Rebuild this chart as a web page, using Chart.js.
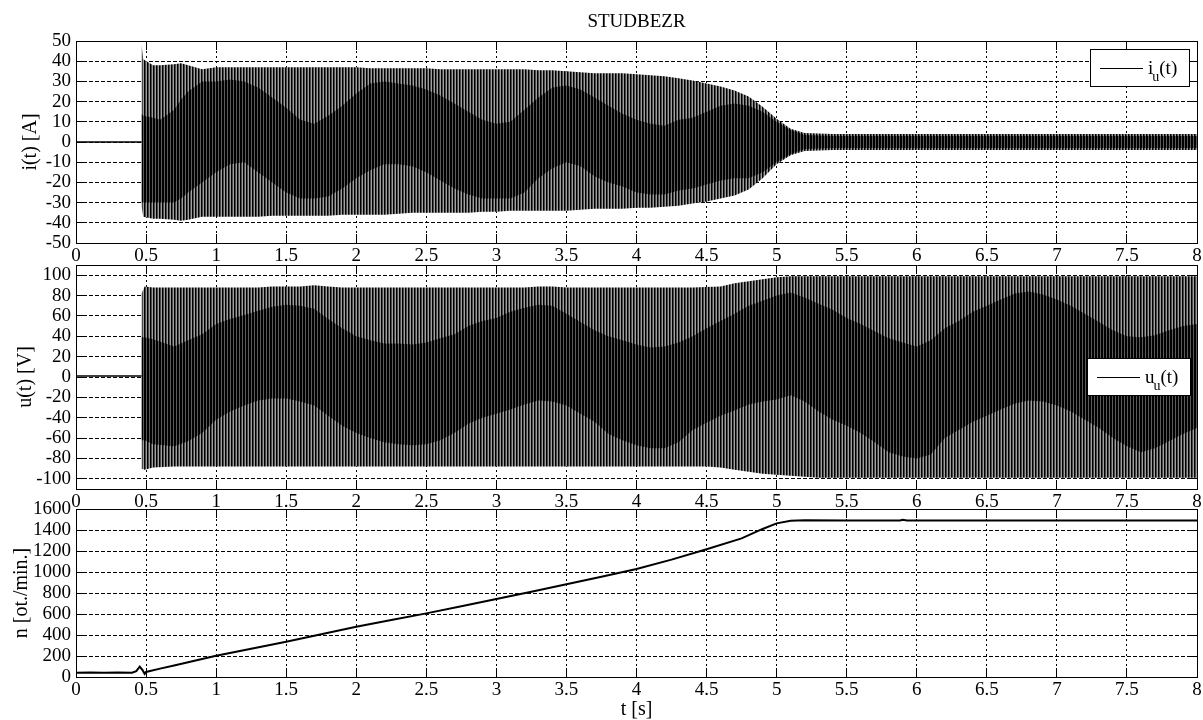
<!DOCTYPE html>
<html>
<head>
<meta charset="utf-8">
<script src="https://cdn.jsdelivr.net/npm/chart.js@4.4.1/dist/chart.umd.min.js"></script>
<style>
  body { margin: 0; background: #fff; }
  #wrap { position: relative; width: 1203px; height: 720px; }
  #wrap canvas { position: absolute; left: 0; }
</style>
</head>
<body>
<div id="wrap">
  <canvas id="currentChart" width="1203" height="265" style="top:0px"></canvas>
  <canvas id="voltageChart" width="1203" height="260" style="top:255px"></canvas>
  <canvas id="speedChart" width="1203" height="220" style="top:500px"></canvas>
</div>
<script>
// tick labels
var xTicks = [0, 0.5, 1, 1.5, 2, 2.5, 3, 3.5, 4, 4.5, 5, 5.5, 6, 6.5, 7, 7.5, 8];
var iTicks = [-50, -40, -30, -20, -10, 0, 10, 20, 30, 40, 50];
var uTicks = [-100, -80, -60, -40, -20, 0, 20, 40, 60, 80, 100];
var nTicks = [0, 200, 400, 600, 800, 1000, 1200, 1400, 1600];

// current i(t): envelope of the oscillation (outer) and of the dark beat region (inner)
var iTime = [0.468, 0.48, 0.55, 0.6, 0.7, 0.75, 0.8, 0.9,
  1.0, 1.1, 1.2, 1.3, 1.4, 1.5, 1.6, 1.7, 1.8, 1.9,
  2.0, 2.1, 2.2, 2.3, 2.4, 2.5, 2.6, 2.7, 2.8, 2.9,
  3.0, 3.1, 3.2, 3.3, 3.4, 3.5, 3.6, 3.7, 3.8, 3.9,
  4.0, 4.1, 4.2, 4.3, 4.4, 4.5, 4.6, 4.7, 4.8, 4.9,
  5.0, 5.1, 5.2, 5.4, 6.0, 7.0, 8.0];
var iHigh = [48, 41, 38, 38, 38.5, 39, 38, 36,
  37, 37, 37, 37, 37, 37, 37, 37, 37, 37,
  37, 36.5, 36.5, 36.5, 36.5, 36.5, 36, 36, 36, 36,
  36, 36, 36, 35.5, 35.5, 35, 34.5, 34, 34, 34,
  33.5, 33, 32.5, 31.5, 30.5, 29, 27.5, 25.5, 22.5, 17.5,
  11.5, 6.5, 4.5, 4, 4, 4, 4];
var iLow = [-32, -37, -38, -38, -38.5, -39, -38.5, -37,
  -37, -37, -37, -37, -36.5, -36.5, -36.5, -36.5, -36.5, -36,
  -36, -36, -36, -35.5, -35, -35, -35, -35, -35, -34.5,
  -34.5, -34, -34, -34, -34, -34, -33.5, -33, -33, -33,
  -32.5, -32.5, -32, -31.5, -30.5, -29.5, -28, -26.5, -23.5, -18,
  -11, -6.5, -4.5, -4, -4, -4, -4];
var iInnerHigh = [14, 13, 12, 11, 16, 21, 25, 30,
  30, 31, 30, 27, 22, 17, 11, 9, 13, 18,
  24, 29, 30, 29, 28, 26, 23, 19, 15, 11,
  9, 10, 16, 22, 27, 28, 26, 22, 18, 14,
  11, 9, 8, 11, 12, 15, 18, 19, 18, 15,
  10, 6, 3.5, 3, 3, 3, 3];
var iInnerLow = [-30, -30, -30, -30, -30, -28, -25, -20,
  -15, -11, -10, -15, -20, -25, -28, -28, -27, -23,
  -18, -14, -11, -11, -12, -15, -19, -23, -26, -28,
  -28, -28, -25, -18, -13, -10, -12, -17, -20, -22,
  -25, -26, -26, -24, -23, -21, -19, -18, -18, -15,
  -10, -6, -3.5, -3, -3, -3, -3];
var iBeforeTime = [0, 0.468];
var iBefore = [0, 0];

// voltage u(t)
var uTime = [0.468, 0.49, 0.55, 0.7, 0.8, 0.9,
  1.0, 1.1, 1.2, 1.3, 1.4, 1.5, 1.6, 1.7, 1.8, 1.9,
  2.0, 2.1, 2.2, 2.3, 2.4, 2.5, 2.6, 2.7, 2.8, 2.9,
  3.0, 3.1, 3.2, 3.3, 3.4, 3.5, 3.6, 3.7, 3.8, 3.9,
  4.0, 4.1, 4.2, 4.3, 4.4, 4.5, 4.6, 4.7, 4.8, 4.9,
  5.0, 5.1, 5.2, 5.3, 5.4, 5.5, 5.6, 5.7, 5.8, 5.9,
  6.0, 6.1, 6.2, 6.3, 6.4, 6.5, 6.6, 6.7, 6.8, 6.9,
  7.0, 7.1, 7.2, 7.3, 7.4, 7.5, 7.6, 7.7, 7.8, 7.9,
  8.0];
var uHigh = [82, 89, 88, 88, 88, 88,
  88, 88, 88, 88, 89, 89, 89, 90, 89, 88,
  88, 88, 88, 88, 88, 88, 88, 88, 88, 88,
  88, 88, 88, 89, 89, 88, 88, 88, 88, 88,
  88, 88, 88, 88, 88, 88.5, 89, 92, 94, 96,
  98, 99, 99, 99, 99, 99, 99, 99, 99, 99,
  99, 99, 99, 99, 99, 99, 99, 99, 99, 99,
  99, 99, 99, 99, 99, 99, 99, 99, 99, 99,
  99];
var uLow = [-90, -91, -89, -88, -88, -88,
  -88, -88, -88, -88, -88, -88, -88, -88, -88, -88,
  -88, -88, -88, -88, -88, -88, -88, -88, -88, -88,
  -88, -88, -88, -88, -88, -88, -88, -88, -88, -88,
  -88, -88, -88, -88, -88, -88, -89, -91, -93, -95,
  -96, -97, -98, -99, -99, -99, -99, -99, -99, -99,
  -99, -99, -99, -99, -99, -99, -99, -99, -99, -99,
  -99, -99, -99, -99, -99, -99, -99, -99, -99, -99,
  -99];
var uInnerHigh = [39, 39, 37, 30, 36, 42,
  52, 57, 61, 65, 69, 71, 70, 67, 57, 48,
  40, 36, 33, 33, 32, 34, 38, 42, 50, 55,
  58, 64, 68, 71, 70, 62, 54, 46, 40, 36,
  32, 29, 30, 34, 40, 48, 55, 62, 70, 75,
  80, 83, 78, 72, 66, 58, 52, 45, 38, 34,
  30, 36, 48, 55, 64, 70, 76, 82, 84, 81,
  76, 70, 62, 54, 46, 40, 39, 41, 46, 50,
  52];
var uInnerLow = [-62, -62, -66, -68, -63, -55,
  -42, -34, -28, -23, -21, -21, -24, -28, -38, -48,
  -55, -60, -64, -66, -67, -66, -62, -55, -46, -40,
  -36, -32, -27, -23, -24, -28, -36, -44, -56, -62,
  -67, -70, -70, -64, -52, -45, -38, -33, -27, -24,
  -22, -18, -24, -34, -42, -48, -55, -64, -74, -78,
  -80, -76, -60, -52, -44, -38, -32, -26, -23, -24,
  -28, -34, -42, -50, -60, -68, -74, -70, -63, -56,
  -50];
var uBeforeTime = [0, 0.468];
var uBefore = [1, 1];

// speed n
var nTime = [0, 0.1, 0.2, 0.3, 0.4, 0.43, 0.455, 0.475, 0.49, 0.5,
  0.6, 0.7, 0.8, 0.9, 1.0, 1.25, 1.5, 1.75, 2.0, 2.25, 2.5, 2.75,
  3.0, 3.25, 3.5, 3.75, 4.0, 4.25, 4.5, 4.75, 4.9, 5.0, 5.1, 5.2,
  5.5, 5.88, 5.9, 5.93, 6.5, 7.0, 7.5, 8.0];
var nSpeed = [40, 42, 40, 42, 40, 55, 98, 65, 30, 48,
  80, 110, 140, 172, 203, 270, 336, 408, 479, 543, 606, 674,
  743, 812, 883, 955, 1029, 1118, 1216, 1320, 1410, 1463, 1489, 1492,
  1490, 1490, 1497, 1490, 1490, 1490, 1490, 1490];

var serif = '"Liberation Serif", "Times New Roman", serif';
var tickFont = { family: serif, size: 19, lineHeight: 1.2 };
var titleFont = { family: serif, size: 20, lineHeight: 1.2 };

// vertical stripe fills, like the dense 50 Hz trace
function stripes(cols) {
    var c = document.createElement('canvas');
    c.width = cols.length;
    c.height = 1;
    var g = c.getContext('2d');
    cols.forEach(function (col, k) {
        g.fillStyle = col;
        g.fillRect(k, 0, 1, 1);
    });
    return g.createPattern(c, 'repeat');
}
var outerFill = stripes(['#000', '#4a4a4a', '#a0a0a0']);
var innerFill = stripes(['#000', '#000', '#5a5a5a']);

function pts(xs, ys) {
    return xs.map(function (x, k) { return { x: x, y: ys[k] }; });
}

function band(xs, hi, lo, fillColor) {
    return [
        { data: pts(xs, hi), borderWidth: 0, pointRadius: 0, fill: '+1', backgroundColor: fillColor },
        { data: pts(xs, lo), borderWidth: 0, pointRadius: 0, fill: false }
    ];
}

function fixSize(w, h) {
    return function (scale) {
        if (w !== null) scale.width = w;
        if (h !== null) scale.height = h;
        scale.paddingLeft = 0;
        scale.paddingRight = 0;
        scale.paddingTop = 0;
        scale.paddingBottom = 0;
    };
}

function useTicks(list) {
    return function (scale) {
        scale.ticks = list.map(function (v) { return { value: v }; });
    };
}

function label(v) {
    return String(v);
}

function makeScales(yMin, yMax, yTicks, yTitle, yTitlePad, xHeight, xTitle) {
    return {
        x: {
            type: 'linear', position: 'bottom', min: 0, max: 8,
            afterBuildTicks: useTicks(xTicks),
            ticks: { padding: 11, color: '#000', font: tickFont, maxRotation: 0, autoSkip: false, callback: label },
            grid: { color: '#000', lineWidth: 1, tickLength: -9, tickColor: '#000' },
            border: { color: '#000', width: 1, dash: [2, 3] },
            title: xTitle ? { display: true, text: xTitle, color: '#000',
                font: { family: serif, size: 20, lineHeight: 1 }, padding: { top: 0, bottom: 0 } } : { display: false },
            afterFit: fixSize(null, xHeight)
        },
        xTop: {
            type: 'linear', position: 'top', min: 0, max: 8,
            afterBuildTicks: useTicks(xTicks),
            ticks: { display: false },
            grid: { drawOnChartArea: false, tickLength: -9, color: '#000' },
            border: { color: '#000', width: 1 },
            afterFit: fixSize(null, 0)
        },
        y: {
            type: 'linear', position: 'left', min: yMin, max: yMax,
            afterBuildTicks: useTicks(yTicks),
            ticks: { padding: 14, color: '#000', font: tickFont, autoSkip: false, callback: label },
            grid: { color: '#000', lineWidth: 1, tickLength: -9, tickColor: '#000' },
            border: { color: '#000', width: 1, dash: [4, 2] },
            title: { display: true, text: yTitle, color: '#000', font: titleFont,
                padding: { top: yTitlePad, bottom: 0 } },
            afterFit: fixSize(76, null)
        },
        yRight: {
            type: 'linear', position: 'right', min: yMin, max: yMax,
            afterBuildTicks: useTicks(yTicks),
            ticks: { display: false },
            grid: { drawOnChartArea: false, tickLength: -9, color: '#000' },
            border: { color: '#000', width: 1 },
            afterFit: fixSize(6, null)
        }
    };
}

// white axes background, hides labels of the plot above
var areaBackground = {
    id: 'areaBackground',
    beforeDraw: function (chart) {
        var a = chart.chartArea;
        chart.ctx.save();
        chart.ctx.fillStyle = '#fff';
        chart.ctx.fillRect(a.left, a.top, a.right - a.left, a.bottom - a.top);
        chart.ctx.restore();
    }
};

// MATLAB style legend box with a subscript
var boxLegend = {
    id: 'boxLegend',
    afterDraw: function (chart, args, o) {
        if (!o || !o.main) return;
        var ctx = chart.ctx;
        ctx.save();
        ctx.fillStyle = '#fff';
        ctx.fillRect(o.x, o.y, o.w, o.h);
        ctx.strokeStyle = '#000';
        ctx.lineWidth = 1;
        ctx.strokeRect(o.x + 0.5, o.y + 0.5, o.w, o.h);
        var midY = Math.round(o.y + o.h / 2) + 0.5;
        ctx.beginPath();
        ctx.moveTo(o.x + 10, midY);
        ctx.lineTo(o.x + 53, midY);
        ctx.stroke();
        ctx.fillStyle = '#000';
        ctx.textBaseline = 'alphabetic';
        var tx = o.x + 58, base = midY + 5;
        ctx.font = '19px ' + serif;
        ctx.fillText(o.main, tx, base);
        tx += ctx.measureText(o.main).width - 1;
        ctx.font = '14px ' + serif;
        ctx.fillText(o.sub, tx, base + 7);
        tx += ctx.measureText(o.sub).width;
        ctx.font = '19px ' + serif;
        ctx.fillText('(t)', tx, base);
        ctx.restore();
    }
};

function baseOptions(scales, pad, extra) {
    var plugins = {
        legend: { display: false },
        tooltip: { enabled: false },
        title: { display: false },
        boxLegend: extra.legend || {}
    };
    if (extra.title) plugins.title = extra.title;
    return {
        responsive: false,
        animation: false,
        layout: { padding: pad },
        elements: { line: { tension: 0 } },
        plugins: plugins,
        scales: scales
    };
}

var currentChart = new Chart(document.getElementById('currentChart').getContext('2d'), {
    type: 'line',
    data: {
        datasets: band(iTime, iInnerHigh, iInnerLow, innerFill)
            .concat(band(iTime, iHigh, iLow, outerFill))
            .concat([{ data: pts(iBeforeTime, iBefore), borderColor: '#000', borderWidth: 1.5, pointRadius: 0, fill: false }])
    },
    options: baseOptions(
        makeScales(-50, 50, iTicks, 'i(t) [A]', 19, 22, null),
        { top: 0, left: 0, right: 0, bottom: 0 },
        {
            title: { display: true, text: 'STUDBEZR', fullSize: false, color: '#000',
                font: { family: serif, size: 19, weight: 'normal', lineHeight: 1.2 },
                padding: { top: 10.6, bottom: 7.6 } },
            legend: { main: 'i', sub: 'u', x: 1090, y: 49, w: 99, h: 37 }
        }),
    plugins: [areaBackground, boxLegend]
});

var voltageChart = new Chart(document.getElementById('voltageChart').getContext('2d'), {
    type: 'line',
    data: {
        datasets: band(uTime, uInnerHigh, uInnerLow, innerFill)
            .concat(band(uTime, uHigh, uLow, outerFill))
            .concat([{ data: pts(uBeforeTime, uBefore), borderColor: '#000', borderWidth: 1.5, pointRadius: 0, fill: false }])
    },
    options: baseOptions(
        makeScales(-110, 110, uTicks, 'u(t) [V]', 14, 26, null),
        { top: 10, left: 0, right: 0, bottom: 0 },
        { legend: { main: 'u', sub: 'u', x: 1087, y: 103, w: 103, h: 37 } }),
    plugins: [areaBackground, boxLegend]
});

var speedChart = new Chart(document.getElementById('speedChart').getContext('2d'), {
    type: 'line',
    data: {
        datasets: [{ data: pts(nTime, nSpeed), borderColor: '#000', borderWidth: 2, pointRadius: 0, fill: false }]
    },
    options: baseOptions(
        makeScales(0, 1600, nTicks, 'n [ot./min.]', 10, 43, 't [s]'),
        { top: 9, left: 0, right: 0, bottom: 0 },
        {}),
    plugins: [areaBackground]
});
</script>
</body>
</html>
